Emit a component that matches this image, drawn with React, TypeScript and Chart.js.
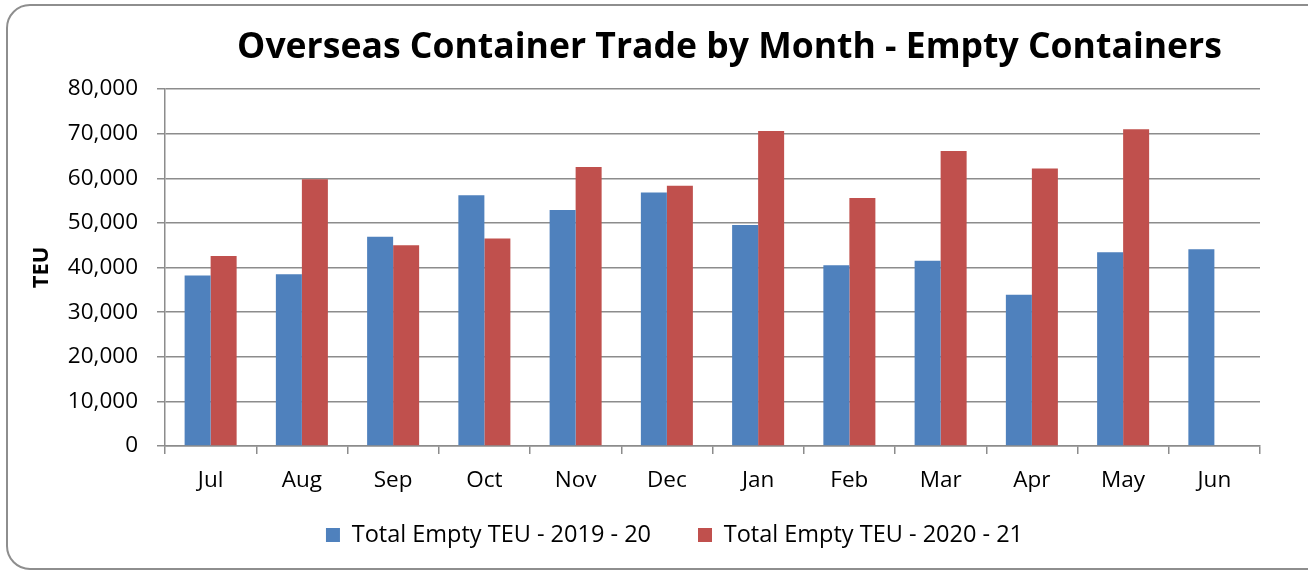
import { useEffect, useRef } from "react";
import { Chart, registerables } from "chart.js";

Chart.register(...registerables);

const chartTitle = "Overseas Container Trade by Month - Empty Containers";
const yAxisTitle = "TEU";
const months = ["Jul", "Aug", "Sep", "Oct", "Nov", "Dec", "Jan", "Feb", "Mar", "Apr", "May", "Jun"];
const seriesLabels = ["Total Empty TEU - 2019 - 20", "Total Empty TEU - 2020 - 21"];
const teu2019_20 = [38200, 38500, 46900, 56200, 52900, 56800, 49500, 40500, 41500, 33900, 43400, 44100];
const teu2020_21: (number | null)[] = [42600, 59800, 45000, 46500, 62500, 58300, 70600, 55600, 66100, 62200, 71000, null];
const yMin = 0;
const yMax = 80000;
const yStep = 10000;

const FONT = "'Open Sans', sans-serif";
const GRID = "#8c8c8c";
const TICK_SIZE = 22.5;
const LEGEND_SIZE = 23.5;

const titlePlugin = {
  id: "centeredTitle",
  afterDraw(chart: any) {
    const ctx = chart.ctx;
    ctx.save();
    const target = 985;
    let size = 35;
    ctx.font = `bold ${size}px ${FONT}`;
    const w = ctx.measureText(chartTitle).width;
    size = size * target / w;
    ctx.font = `bold ${size}px ${FONT}`;
    ctx.fillStyle = "#000";
    ctx.textAlign = "center";
    ctx.textBaseline = "alphabetic";
    ctx.fillText(chartTitle, 729.5, 58);
    ctx.restore();
  },
};

const legendPlacer = {
  id: "legendPlacer",
  afterLayout(chart: any) {
    const lg = chart.legend;
    if (!lg) return;
    const w = lg.right - lg.left;
    const h = lg.bottom - lg.top;
    lg.left = 674.5 - w / 2;
    lg.right = lg.left + w;
    const pad = lg.options.labels.padding;
    lg.top = 535 - pad - LEGEND_SIZE / 2;
    lg.bottom = lg.top + h;
  },
};

export default function App() {
  const ref = useRef<HTMLCanvasElement | null>(null);
  useEffect(() => {
    if (!ref.current) return;
    const chart = new Chart(ref.current, {
      type: "bar",
      data: {
        labels: months,
        datasets: [
          { label: seriesLabels[0], data: teu2019_20, backgroundColor: "#4F81BD", borderWidth: 0 },
          { label: seriesLabels[1], data: teu2020_21, backgroundColor: "#C0504D", borderWidth: 0 },
        ],
      },
      options: {
        animation: false,
        responsive: false,
        maintainAspectRatio: false,
        layout: { padding: { left: 0, right: 48, top: 89, bottom: -7 } },
        datasets: { bar: { categoryPercentage: 0.57, barPercentage: 1 } },
        plugins: {
          title: { display: false },
          tooltip: { enabled: false },
          legend: {
            display: true,
            position: "bottom",
            labels: {
              boxWidth: 14,
              boxHeight: 14,
              padding: 47,
              color: "#000",
              font: { family: FONT, size: LEGEND_SIZE },
            },
          },
        },
        scales: {
          x: {
            grid: { display: true, offset: true, drawOnChartArea: false, drawTicks: true, tickLength: 8, color: GRID, lineWidth: 1.5 },
            border: { display: true, color: GRID, width: 1.5 },
            ticks: { color: "#000", font: { family: FONT, size: TICK_SIZE }, padding: 13 },
            afterFit: (s: any) => { s.height = 53.5; },
          },
          y: {
            min: yMin,
            max: yMax,
            ticks: {
              stepSize: yStep,
              color: "#000",
              font: { family: FONT, size: TICK_SIZE },
              padding: 19,
              callback: (v: any) => Number(v).toLocaleString("en-US"),
            },
            grid: { color: GRID, lineWidth: 1.5, tickLength: 8, drawTicks: true },
            border: { display: true, color: GRID, width: 1.5 },
            title: {
              display: true,
              text: yAxisTitle,
              color: "#000",
              font: { family: FONT, size: 22, weight: "bold" },
              padding: { top: 29, bottom: 0 },
            },
            afterFit: (s: any) => { s.width = 165; },
          },
        },
      },
      plugins: [titlePlugin, legendPlacer],
    });
    return () => chart.destroy();
  }, []);

  return (
    <div style={{ position: "fixed", left: 0, top: 0, width: 1308, height: 573, overflow: "hidden", background: "#fff" }}>
      <div
        style={{
          position: "absolute",
          left: 6,
          top: 4,
          width: 1330,
          height: 566,
          border: "2px solid #8e8e8e",
          borderRadius: 24,
          boxSizing: "border-box",
        }}
      />
      <canvas ref={ref} width={1308} height={573} style={{ position: "absolute", left: 0, top: 0, width: 1308, height: 573 }} />
    </div>
  );
}
